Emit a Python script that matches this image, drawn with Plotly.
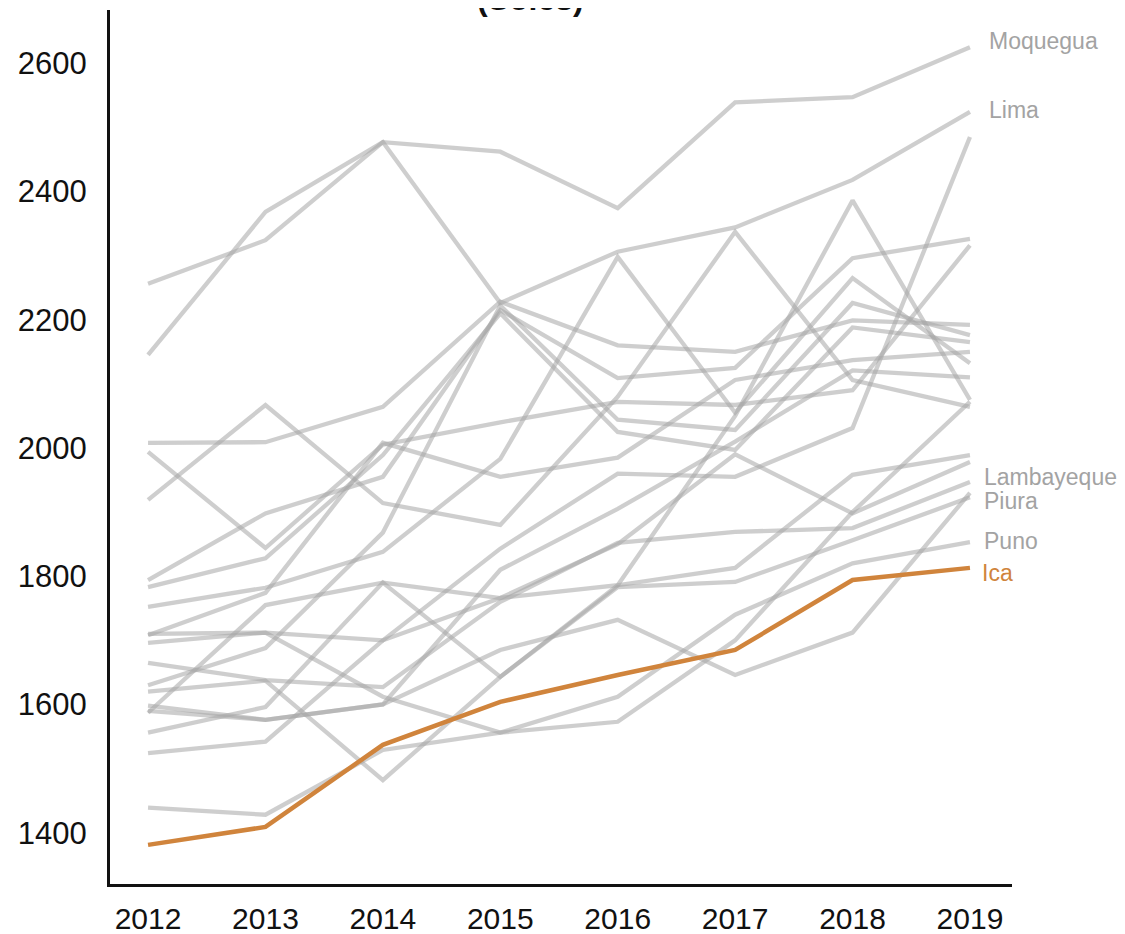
import plotly.graph_objects as go

years = [2012, 2013, 2014, 2015, 2016, 2017, 2018, 2019]

moquegua = [2256, 2324, 2477, 2462, 2374, 2539, 2547, 2625]
lima = [2145, 2368, 2477, 2226, 2306, 2344, 2418, 2524]
ica = [1381, 1409, 1537, 1604, 1646, 1685, 1794, 1813]
lambayeque = [1665, 1638, 1627, 1760, 1852, 1869, 1875, 1947]
piura = [1556, 1596, 1790, 1643, 1783, 1791, 1856, 1923]
puno = [1439, 1428, 1529, 1556, 1612, 1740, 1820, 1853]
tacna = [2008, 2009, 2064, 2228, 2160, 2150, 2199, 2192]
arequipa = [1752, 1782, 1838, 1983, 2298, 2055, 2265, 2132]
madre_de_dios = [1919, 2067, 1914, 1880, 2080, 2337, 2106, 2064]
callao = [1587, 1755, 1790, 1766, 1786, 2050, 2386, 2075]
tumbes = [1696, 1712, 1700, 1843, 1960, 1955, 2031, 2485]
pasco = [1794, 1898, 1955, 2215, 2109, 2125, 2296, 2326]
junin = [1994, 1844, 2005, 2040, 2072, 2067, 2090, 2316]
la_libertad = [1630, 1688, 1868, 2222, 2044, 2028, 2226, 2176]
cusco = [1783, 1828, 1989, 2210, 2025, 1997, 2188, 2165]
ancash = [1708, 1774, 2008, 1955, 1985, 2106, 2137, 2150]
san_martin = [1598, 1576, 1600, 1810, 1905, 2010, 2121, 2110]
ucayali = [1620, 1637, 1482, 1643, 1786, 1813, 1958, 1989]
loreto = [1524, 1542, 1700, 1766, 1850, 1990, 1898, 1978]
amazonas = [1590, 1576, 1600, 1685, 1732, 1646, 1712, 1930]
huanuco = [1710, 1712, 1612, 1556, 1573, 1700, 1900, 2072]

grey_series = {
    "Tacna": tacna, "Arequipa": arequipa, "Madre de Dios": madre_de_dios,
    "Callao": callao, "Tumbes": tumbes, "Pasco": pasco, "Junín": junin,
    "La Libertad": la_libertad, "Cusco": cusco, "Áncash": ancash,
    "San Martín": san_martin, "Ucayali": ucayali, "Loreto": loreto,
    "Amazonas": amazonas, "Huánuco": huanuco,
    "Moquegua": moquegua, "Lima": lima, "Lambayeque": lambayeque,
    "Piura": piura, "Puno": puno,
}

# (name, values, xshift, yshift)
labeled = [("Moquegua", moquegua, 17, 6), ("Lima", lima, 17, 2),
           ("Lambayeque", lambayeque, 12, 5), ("Piura", piura, 12, -4),
           ("Puno", puno, 12, 1)]

GREY = "rgba(165,165,165,0.55)"
ORANGE = "#d0843c"
LABEL_GREY = "#a3a3a3"
FONT = "Liberation Sans, Arial, sans-serif"

fig = go.Figure()
for name, vals in grey_series.items():
    fig.add_trace(go.Scatter(x=years, y=vals, mode="lines", name=name,
                             line=dict(color=GREY, width=4.3), showlegend=False))
fig.add_trace(go.Scatter(x=years, y=ica, mode="lines", name="Ica",
                         line=dict(color=ORANGE, width=4.5), showlegend=False))

for name, vals, xs, ys in labeled:
    fig.add_annotation(x=years[-1], y=vals[-1], text=name, showarrow=False,
                       xanchor="left", xshift=xs, yshift=ys,
                       font=dict(family=FONT, size=23, color=LABEL_GREY))
fig.add_annotation(x=years[-1], y=ica[-1], text="Ica", showarrow=False,
                   xanchor="left", xshift=10, yshift=-5,
                   font=dict(family=FONT, size=23, color=ORANGE))

fig.add_annotation(xref="paper", yref="paper", x=0.4667, y=1, text="<b>(Soles)</b>",
                   showarrow=False, xanchor="center", yanchor="bottom", yshift=-9,
                   font=dict(family=FONT, size=32, color="#111111"))

fig.update_layout(
    width=1109, height=934,
    margin=dict(l=102, r=105, t=2, b=58, autoexpand=False),
    paper_bgcolor="white", plot_bgcolor="white",
    font=dict(family=FONT, size=28, color="#111111"),
)
fig.update_xaxes(range=[2011.676, 2019.358], tickmode="array", tickvals=years,
                 automargin=False,
                 showgrid=False, zeroline=False, showline=True, linecolor="#111111",
                 linewidth=3, ticks="", ticklabelstandoff=6,
                 tickfont=dict(family=FONT, size=30, color="#111111"))
fig.update_yaxes(range=[1320, 2683], tickvals=[1400, 1600, 1800, 2000, 2200, 2400, 2600],
                 automargin=False,
                 showgrid=False, zeroline=False, showline=True, linecolor="#111111",
                 linewidth=3, ticks="", ticklabelstandoff=14,
                 tickfont=dict(family=FONT, size=31, color="#111111"))

fig.write_html("out.html")
